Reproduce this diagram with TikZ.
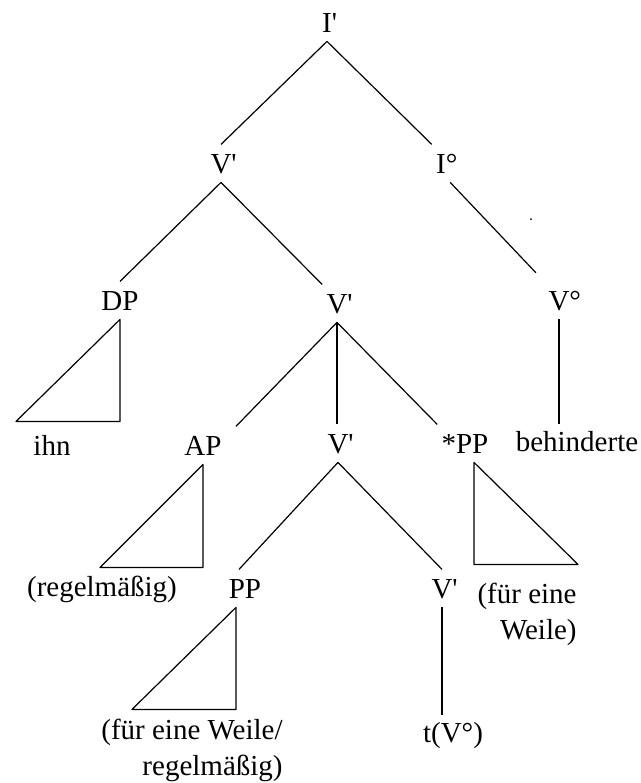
\documentclass[tikz,border=0pt]{standalone}
\usepackage{fontspec}
\newfontfamily\treefont{Liberation Serif}

\begin{document}
\begin{tikzpicture}[x=0.5pt, y=-0.5pt,
  cat/.style={font=\treefont\fontsize{14.5}{19}\selectfont, anchor=base,
              text height=9.6pt, text depth=0pt, inner xsep=2pt, inner ysep=4.5pt},
  leaf/.style={font=\treefont\fontsize{14.5}{18}\selectfont, anchor=base, inner sep=3pt},
  branch/.style={line width=0.6pt, line join=round}
]
\useasboundingbox (0,0) rectangle (641,783);

% category labels
\node[cat] (I1)  at (327,32)  {I\rlap{'}};
\node[cat] (V1)  at (221,173) {V\rlap{'}};
\node[cat] (Io)  at (441,173) {I\rlap{°}};
\node[cat] (DP)  at (120,310) {DP};
\node[cat] (V2)  at (337,313) {V\rlap{'}};
\node[cat] (Vo)  at (559,310) {V\rlap{°}};
\node[cat] (AP)  at (203,455) {AP};
\node[cat] (V3)  at (338,453) {V\rlap{'}};
\node[cat] (sPP) at (465,453) {*PP};
\node[cat] (PP)  at (245,598) {PP};
\node[cat] (V4)  at (442,598) {V\rlap{'}};

% terminal strings
\node[leaf] (ihn)   at (52,455)  {ihn};
\node[leaf] (beh)   at (577,451) {behinderte};
\node[leaf] (regel) at (102,596) {(regelmäßig)};
\node[leaf] (trace) at (453,742) {t(V°)};
\node[leaf, anchor=north east, align=right, inner sep=0pt] (weileA) at (283,719)
  {(für eine Weile/\\regelmäßig)};
\node[leaf, anchor=north east, align=right, inner sep=0pt] (weileB) at (577,583)
  {(für eine\\Weile)};

% branches
\draw[branch] (I1.south) -- (V1.north);
\draw[branch] (I1.south) -- (Io.north west);
\draw[branch] (V1.south) -- (DP.north);
\draw[branch] (V1.south) -- (V2.north west);
\draw[branch, shorten >=6pt] (Io.south east) -- (Vo.north west);
\draw[branch] (Vo.south) -- (Vo.south |- beh.north);
\draw[branch] (V2.south) -- ([xshift=5pt]AP.north east);
\draw[branch] (V2.south) -- (V2.south |- V3.north);
\draw[branch] (V2.south) -- (sPP.north west);
\draw[branch] (V3.south) -- ([xshift=-3pt]PP.north);
\draw[branch] (V3.south) -- (V4.north);
\draw[branch] (V4.south) -- (V4.south |- trace.north);

% triangles
\draw[branch] (DP.south) -- ++(0,102) -- ++(-104,0) -- cycle;
\draw[branch] (AP.south) -- ++(0,103) -- ++(-103,0) -- cycle;
\draw[branch] ([xshift=-4.5pt]PP.south) -- ++(0,102) -- ++(-104,0) -- cycle;
\draw[branch] ([xshift=4.5pt]sPP.south) -- ++(0,102) -- ++(104,0) -- cycle;

\fill (531,219) circle (1);
\end{tikzpicture}
\end{document}
